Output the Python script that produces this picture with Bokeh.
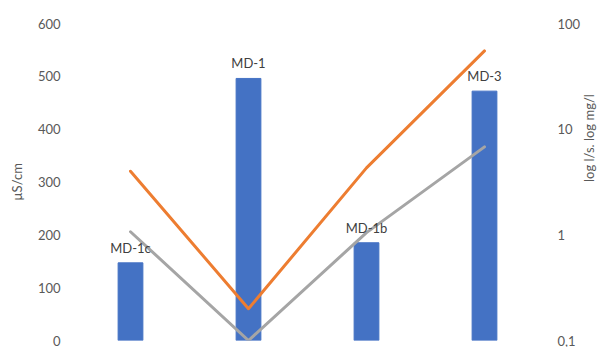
import math
from bokeh.plotting import figure
from bokeh.models import (Range1d, LogAxis, LogScale, FixedTicker, ColumnDataSource,
                          FactorRange, CustomJSTickFormatter)
from bokeh.core.properties import value
from bokeh.embed import file_html
from bokeh.resources import INLINE

# ---- data ----
sites = ["MD-1c", "MD-1", "MD-1b", "MD-3"]
conductivity = [147, 496, 185, 472]          # µS/cm (bars, left axis)
orange_series = [4.0, 0.2, 4.3, 55.0]        # log axis (right)
gray_series = [1.07, 0.1, 1.05, 6.8]         # log axis (right)
left_ticks = [0, 100, 200, 300, 400, 500, 600]
right_ticks = [0.1, 1, 10, 100]
right_tick_labels = ["0,1", "1", "10", "100"]

FONT = "Lato"
TXT = "#595959"

src = ColumnDataSource(dict(site=sites, cond=conductivity,
                            orange=orange_series, gray=gray_series))

p = figure(width=610, height=347, x_range=FactorRange(*sites),
           y_range=Range1d(0, 600), output_backend="svg", toolbar_location=None,
           min_border_left=71, min_border_right=67, min_border_top=23,
           min_border_bottom=7)
p.extra_y_ranges = {"log": Range1d(0.1, 100)}
p.extra_y_scales = {"log": LogScale()}

p.vbar(x="site", top="cond", width=0.21, source=src, fill_color="#4472C4",
       line_color="#4472C4")
p.line(x="site", y="orange", source=src, y_range_name="log", line_color="#ED7D31",
       line_width=3, line_cap="round", line_join="round")
p.line(x="site", y="gray", source=src, y_range_name="log", line_color="#A5A5A5",
       line_width=3, line_cap="round", line_join="round")
p.text(x="site", y="cond", text="site", source=src, text_align="center",
       text_baseline="bottom", y_offset=-7, text_font=value(FONT),
       text_font_size="13px", text_color="#404040")

p.xaxis.visible = False
p.xgrid.visible = False
p.ygrid.visible = False
p.outline_line_color = None

ya = p.yaxis[0]
ya.ticker = FixedTicker(ticks=left_ticks)
ya.axis_label = "µS/cm"

fmt = CustomJSTickFormatter(args=dict(tvals=right_ticks, tlabels=right_tick_labels), code="""
    for (let i = 0; i < tvals.length; i++) {
        if (Math.abs(tvals[i] - tick) < 1e-6 * Math.max(1, tvals[i])) return tlabels[i];
    }
    return "";
""")
ra = LogAxis(y_range_name="log", ticker=FixedTicker(ticks=right_ticks),
             axis_label="log l/s. log mg/l", formatter=fmt)
p.add_layout(ra, "right")

for ax in (ya, ra):
    ax.axis_line_color = None
    ax.major_tick_line_color = None
    ax.minor_tick_line_color = None
    ax.major_tick_out = 0
    ax.major_tick_in = 0
    ax.minor_tick_out = 0
    ax.minor_tick_in = 0
    ax.major_label_text_font = FONT
    ax.major_label_text_font_size = "13px"
    ax.major_label_text_color = TXT
    ax.axis_label_text_font = FONT
    ax.axis_label_text_font_size = "13px"
    ax.axis_label_text_color = TXT
    ax.axis_label_text_font_style = "normal"

ya.major_label_standoff = 11
ya.axis_label_standoff = 10
ra.major_label_standoff = 14
ra.axis_label_standoff = 6
if "axis_label_orientation" in ra.properties():
    ra.axis_label_orientation = math.pi / 2

open("out.html", "w").write(file_html(p, INLINE))
